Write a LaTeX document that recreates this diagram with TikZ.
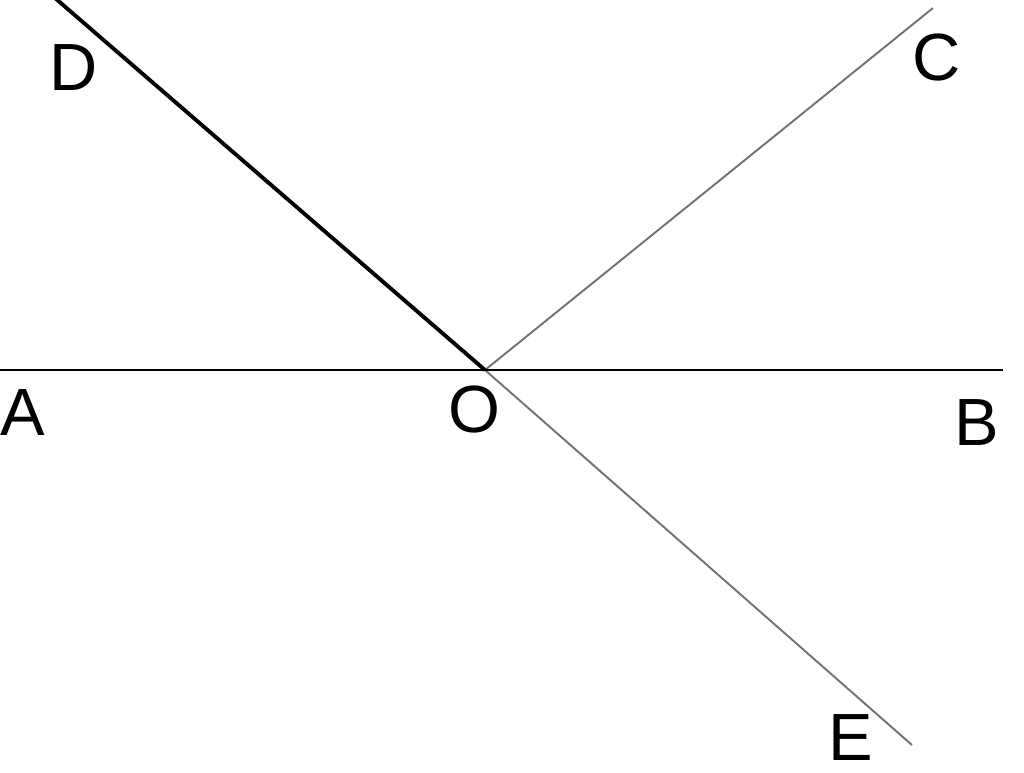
\documentclass[tikz,border=0pt]{standalone}
\usepackage{fontspec}
\setmainfont{Liberation Sans}
\begin{document}
\begin{tikzpicture}[x=0.02cm,y=-0.02cm,
  lbl/.style={font=\fontsize{38}{40}\selectfont, inner sep=0pt, anchor=center},
  darkline/.style={draw=black, line width=1.6pt},
  thickline/.style={draw=black, line width=2.2pt},
  grayline/.style={draw=black!55, line width=1.1pt}]
\useasboundingbox (0,0) rectangle (1024,772);
\coordinate (O) at (485,370);
\coordinate (Aend) at (0,370);
\coordinate (Bend) at (1003,370);
\coordinate (Dend) at (55,-2);
\coordinate (Cend) at (933,8);
\coordinate (Eend) at (912,745);
\draw[grayline] (O) -- (Cend);
\draw[grayline] (O) -- (Eend);
\draw[darkline] (Aend) -- (Bend);
\draw[thickline] (Dend) -- (O);
\node[lbl] (D) at (74,68) {D};
\node[lbl] (C) at (937,58) {C};
\node[lbl] (A) at (23,413) {A};
\node[lbl] (Olbl) at (474,410) {O};
\node[lbl] (B) at (977,423) {B};
\node[lbl] (E) at (851,738) {E};
\end{tikzpicture}
\end{document}
